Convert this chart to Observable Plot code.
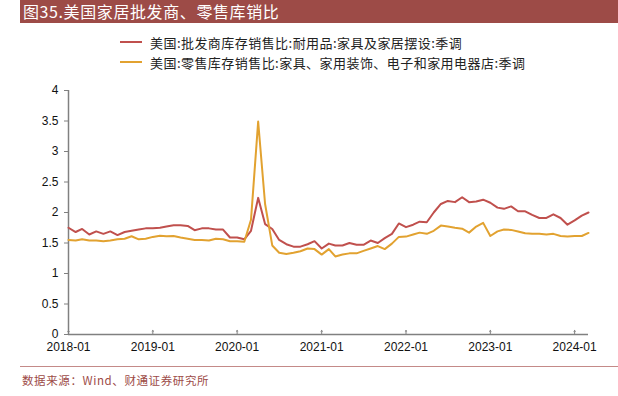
<!DOCTYPE html>
<html><head><meta charset="utf-8">
<script src="https://cdn.jsdelivr.net/npm/d3@7"></script>
<script src="https://cdn.jsdelivr.net/npm/@observablehq/plot@0.6"></script>
<style>
body{margin:0;width:618px;height:396px;position:relative;background:#fff;overflow:hidden;font-family:"Noto Sans CJK SC",sans-serif}
#title{position:absolute;left:20px;top:0;width:598px;height:23px;background:#9D4B47;color:#fff;font-size:16px;line-height:23px;padding-left:3px;box-sizing:border-box;white-space:nowrap;letter-spacing:0.6px}
.leg{position:absolute;left:120px;font-size:13px;color:#222;display:flex;align-items:center;height:20px;white-space:nowrap;letter-spacing:0.45px}
.sw{width:22px;height:2px;margin-right:8px}
#chart{position:absolute;left:0;top:80px}
#rule{position:absolute;left:20px;top:366px;width:598px;height:1px;background:#C48A88}
#cap{position:absolute;left:22px;top:371px;font-size:11.5px;line-height:18px;color:#9D4B47;white-space:nowrap;letter-spacing:0.6px}
</style></head><body>
<div id="title">图35.美国家居批发商、零售库销比</div>
<div class="leg" id="leg1" style="top:32px"></div>
<div class="leg" id="leg2" style="top:52px"></div>
<div id="chart"></div>
<div id="rule"></div>
<div id="cap">数据来源：Wind、财通证券研究所</div>
<script>
const seriesNames = ["美国:批发商库存销售比:耐用品:家具及家居摆设:季调", "美国:零售库存销售比:家具、家用装饰、电子和家用电器店:季调"];
const seriesColors = ["#C0504D", "#E2A230"];
const startMonth = "2018-01";
const wholesale = [
  1.75,1.68,1.73,1.64,1.69,1.65,1.69,1.63,1.68,1.70,1.72,1.74,
  1.74,1.75,1.77,1.79,1.79,1.78,1.71,1.74,1.74,1.72,1.72,1.59,
  1.59,1.56,1.70,2.24,1.81,1.73,1.55,1.48,1.44,1.44,1.48,1.53,
  1.41,1.49,1.46,1.46,1.50,1.47,1.47,1.54,1.50,1.58,1.65,1.82,
  1.76,1.80,1.85,1.84,2.00,2.14,2.19,2.17,2.25,2.17,2.18,2.21,
  2.16,2.08,2.06,2.10,2.02,2.02,1.96,1.91,1.91,1.97,1.91,1.80,
  1.87,1.95,2.00
];
const retail = [
  1.55,1.54,1.56,1.54,1.54,1.53,1.54,1.56,1.57,1.61,1.56,1.57,
  1.60,1.62,1.61,1.615,1.59,1.57,1.55,1.55,1.54,1.57,1.56,1.53,
  1.53,1.52,1.88,3.49,2.14,1.46,1.34,1.32,1.34,1.365,1.41,1.40,
  1.31,1.40,1.28,1.31,1.33,1.33,1.37,1.41,1.45,1.40,1.49,1.60,
  1.605,1.64,1.67,1.65,1.70,1.785,1.77,1.75,1.735,1.67,1.77,1.83,
  1.615,1.69,1.72,1.715,1.69,1.66,1.65,1.65,1.64,1.65,1.615,1.605,
  1.615,1.615,1.665
];
const xTickLabels = ["2018-01","2019-01","2020-01","2021-01","2022-01","2023-01","2024-01"];
const yTicks = [0,0.5,1,1.5,2,2.5,3,3.5,4];

const parse = d3.utcParse("%Y-%m");
const start = parse(startMonth);
const rows = [];
[wholesale, retail].forEach((arr, s) => arr.forEach((v, i) => rows.push({date: d3.utcMonth.offset(start, i), value: v, series: seriesNames[s]})));
const xTicks = xTickLabels.map(parse);
const endDate = d3.utcMonth.offset(start, wholesale.length - 1);

[["leg1",0],["leg2",1]].forEach(([id,i]) => {
  const el = document.getElementById(id);
  el.innerHTML = `<span class="sw" style="background:${seriesColors[i]}"></span><span>${seriesNames[i]}</span>`;
});

const axisColor = "#808080";
const chart = Plot.plot({
  width: 618, height: 282,
  marginLeft: 68, marginRight: 30, marginTop: 10, marginBottom: 28,
  style: {fontFamily: "'Liberation Sans', Arial, sans-serif", fontSize: "12px", color: "#111", background: "transparent"},
  x: {type: "utc", domain: [start, endDate]},
  y: {domain: [0, 4]},
  color: {domain: seriesNames, range: seriesColors},
  marks: [
    Plot.ruleX([start], {stroke: axisColor, strokeWidth: 1.5}),
    Plot.ruleY([0], {stroke: axisColor, strokeWidth: 1.5}),
    Plot.axisY({ticks: yTicks, tickSize: 4, tickPadding: 6, stroke: axisColor, fill: "#111", label: null, tickFormat: d => String(d)}),
    Plot.axisX({ticks: xTicks, tickSize: 0, tickPadding: 8, fill: "#111", label: null, tickFormat: d3.utcFormat("%Y-%m")}),
    Plot.vector(xTicks, {x: d => d, frameAnchor: "bottom", length: 4, rotate: 0, anchor: "start", stroke: axisColor, strokeWidth: 1}),
    Plot.line(rows, {x: "date", y: "value", z: "series", stroke: "series", strokeWidth: 2})
  ]
});
document.getElementById("chart").appendChild(chart);
</script>
</body></html>
